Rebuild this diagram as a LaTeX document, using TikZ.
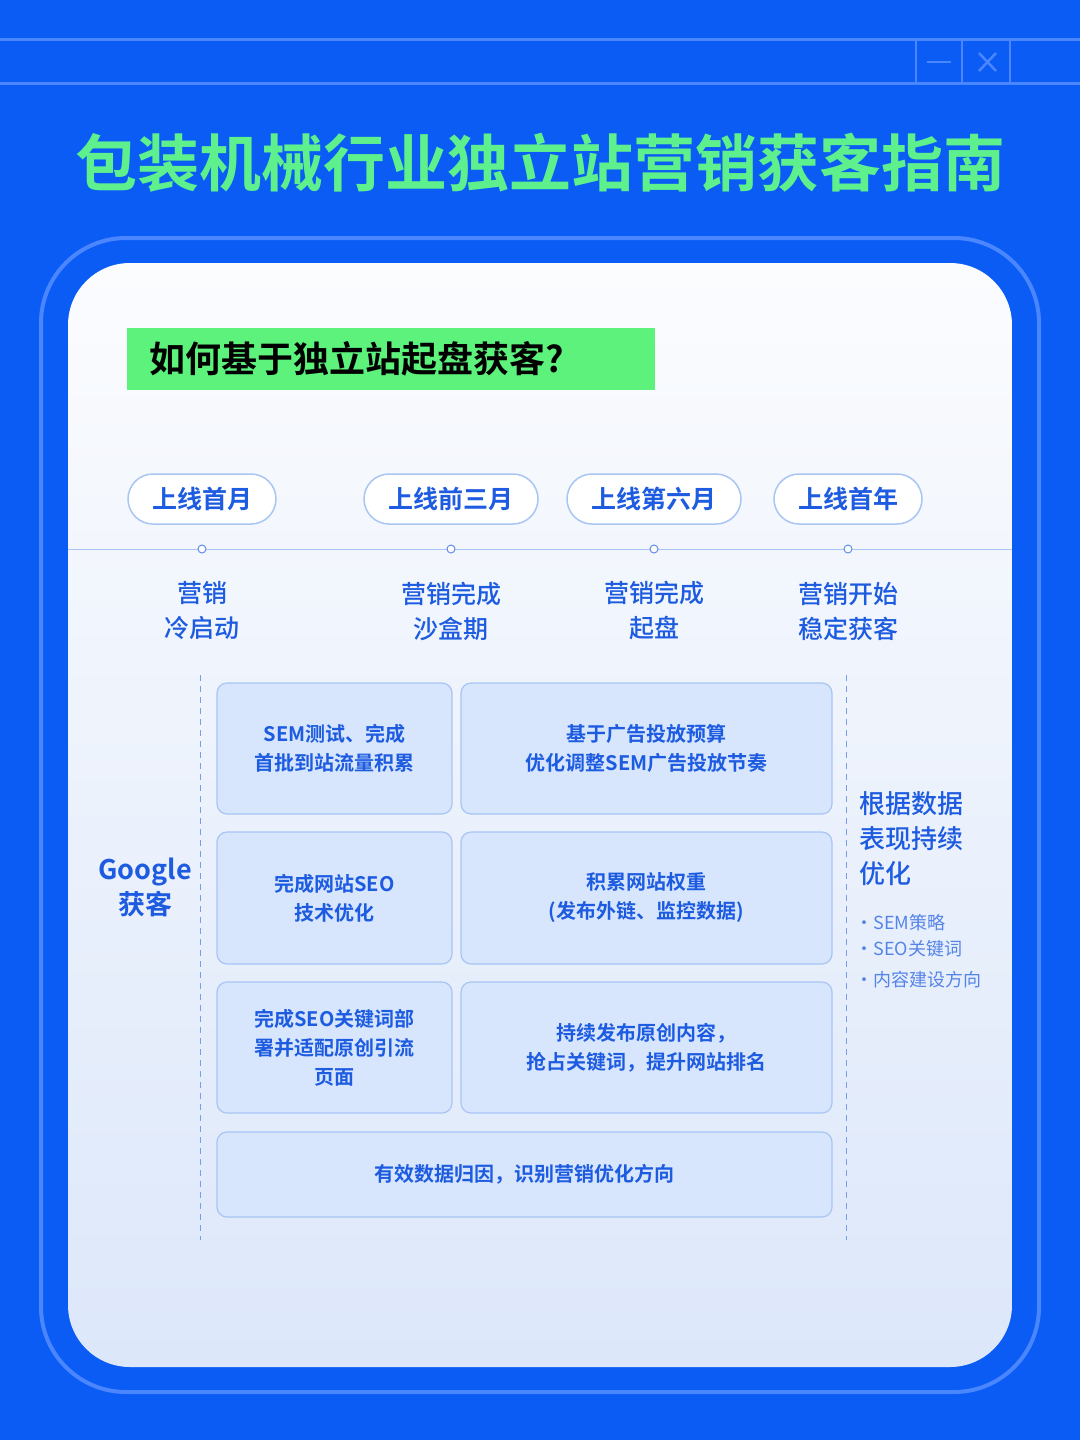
\documentclass[tikz,border=0pt]{standalone}
\usepackage{fontspec}
\setmainfont{Noto Sans CJK SC}
\newfontfamily\cjkb{Noto Sans CJK SC Bold}
\newfontfamily\cjkm{Noto Sans CJK SC Medium}
\definecolor{bgblue}{HTML}{0B5CF4}
\definecolor{lineblue}{HTML}{4A86FF}
\definecolor{ttlgreen}{HTML}{5EF08C}
\definecolor{hdgreen}{HTML}{5CF27C}
\definecolor{txtblue}{HTML}{1D5BE0}
\definecolor{boxfill}{HTML}{D7E6FD}
\definecolor{boxline}{HTML}{A8C5F4}
\definecolor{panelA}{HTML}{FBFCFE}
\definecolor{panelB}{HTML}{DCE7FA}
\begin{document}
\begin{tikzpicture}[x=1pt,y=-1pt,
  pill/.style={draw=boxline,line width=1.5pt,fill=white,rounded corners=25pt,minimum height=50pt,text=txtblue,font=\cjkb\fontsize{25}{30}\selectfont},
  cbox/.style={draw=boxline,line width=1.2pt,fill=boxfill,rounded corners=10pt,text=txtblue,align=center,font=\cjkb\fontsize{20}{29}\selectfont},
  stage/.style={text=txtblue,align=center,font=\cjkm\fontsize{25}{35}\selectfont},
  bul/.style={text=txtblue!75,anchor=west,font=\fontsize{18}{22}\selectfont}]
\fill[bgblue] (0,0) rectangle (1080,1440);
\useasboundingbox (0,0) rectangle (1080,1440);
\draw[lineblue,line width=3pt] (0,39) -- (1080,39);
\draw[lineblue,line width=3pt] (0,83) -- (1080,83);
\foreach \x in {916,962,1010} \draw[lineblue,line width=2.5pt] (\x,41) -- (\x,83);
\draw[lineblue,line width=2.5pt] (927,62) -- (951,62);
\draw[lineblue,line width=2.5pt] (979,53) -- (996,71) (996,53) -- (979,71);
\node (title) [text=ttlgreen,font=\cjkb\fontsize{62}{70}\selectfont] at (540,163) {包装机械行业独立站营销获客指南};
\draw[lineblue,line width=4pt,rounded corners=85pt] (41,238) rectangle (1039,1392);
\shade[top color=panelA,bottom color=panelB,rounded corners=62pt] (68,263) rectangle (1012,1367);
\fill[hdgreen] (127,328) rectangle (655,390);
\node (q) [anchor=west,font=\cjkb\fontsize{36}{40}\selectfont] at (146,359) {如何基于独立站起盘获客?};
\draw[boxline,line width=1pt] (68,549) -- (1012,549);
\foreach \n/\x/\w/\t/\a/\b in {p1/202/148/上线首月/营销/冷启动, p2/451/174/上线前三月/营销完成/沙盒期, p3/654/174/上线第六月/营销完成/起盘, p4/848/148/上线首年/营销开始/稳定获客}{
  \node (\n) [pill,minimum width=\w pt] at (\x,499) {\t};
  \node (\n c) [circle,draw=txtblue!70,fill=white,line width=1pt,inner sep=0pt,minimum size=8pt] at (\x,549) {};
  \node (\n s) [stage] at (\x,611) {\a\\\b};
}
\draw[txtblue!60,line width=1pt,dash pattern=on 6pt off 5pt] (200,675) -- (200,1240);
\draw[txtblue!60,line width=1pt,dash pattern=on 6pt off 5pt] (846,675) -- (846,1240);
\node (g) [text=txtblue,align=center,font=\cjkb\fontsize{27}{35}\selectfont] at (145,887) {Google\\获客};
\node (b1) [cbox,minimum width=235pt,minimum height=131pt] at (334.5,748.5) {SEM测试、完成\\首批到站流量积累};
\node (b2) [cbox,minimum width=371pt,minimum height=131pt] at (646.5,748.5) {基于广告投放预算\\优化调整SEM广告投放节奏};
\node (b3) [cbox,minimum width=235pt,minimum height=132pt] at (334.5,898) {完成网站SEO\\技术优化};
\node (b4) [cbox,minimum width=371pt,minimum height=132pt] at (646.5,898) {积累网站权重\\(发布外链、监控数据)};
\node (b5) [cbox,minimum width=235pt,minimum height=131pt] at (334.5,1047.5) {完成SEO关键词部\\署并适配原创引流\\页面};
\node (b6) [cbox,minimum width=371pt,minimum height=131pt] at (646.5,1047.5) {持续发布原创内容，\\抢占关键词，提升网站排名};
\node (b7) [cbox,minimum width=615pt,minimum height=85pt] at (524.5,1174.5) {有效数据归因，识别营销优化方向};
\node (r) [anchor=north west,text=txtblue,align=left,font=\cjkm\fontsize{26}{35}\selectfont] at (856,788) {根据数据\\表现持续\\优化};
\node (r1) [bul] at (852,923) {·SEM策略};
\node (r2) [bul] at (852,949) {·SEO关键词};
\node (r3) [bul] at (852,980) {·内容建设方向};
\end{tikzpicture}
\end{document}
